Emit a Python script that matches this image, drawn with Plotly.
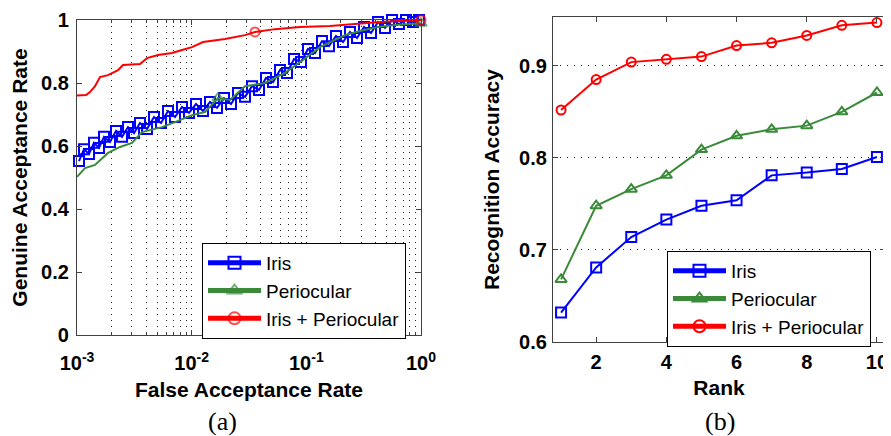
import plotly.graph_objects as go

# ---------------- (a) ROC data: False Acceptance Rate vs Genuine Acceptance Rate
far_iris = [0.001041, 0.001151, 0.001273, 0.001407, 0.001555, 0.001720, 0.001940, 0.002189,
            0.002470, 0.002785, 0.003142, 0.003544, 0.004077, 0.004693, 0.005401, 0.006216,
            0.007155, 0.008234, 0.009479, 0.01091, 0.01256, 0.01445, 0.01663, 0.01914,
            0.02203, 0.02536, 0.02919, 0.03359, 0.03866, 0.04450, 0.05122, 0.05894,
            0.06784, 0.07808, 0.08982, 0.1034, 0.1190, 0.1370, 0.1576, 0.1814,
            0.2088, 0.2403, 0.2766, 0.3184, 0.3664, 0.4217, 0.4854, 0.5587,
            0.6430, 0.7401, 0.8518, 0.9607]
gar_iris = [0.552, 0.590, 0.575, 0.610, 0.594, 0.629, 0.613, 0.648,
            0.629, 0.660, 0.641, 0.673, 0.654, 0.692, 0.673, 0.711,
            0.692, 0.724, 0.705, 0.733, 0.711, 0.740, 0.721, 0.752,
            0.733, 0.768, 0.756, 0.790, 0.778, 0.816, 0.803, 0.841,
            0.832, 0.876, 0.867, 0.908, 0.895, 0.933, 0.917, 0.949,
            0.930, 0.962, 0.943, 0.978, 0.959, 0.994, 0.975, 1.0,
            0.987, 1.0, 0.994, 1.0]

far_peri = [0.001, 0.001174, 0.001436, 0.001864, 0.002371, 0.003017, 0.003688, 0.005510,
            0.007155, 0.01007, 0.01307, 0.01697, 0.02159, 0.02919, 0.04360, 0.06515,
            0.09353, 0.1315, 0.1778, 0.2174, 0.2938, 0.4217, 0.5934, 0.802, 1.0]
gar_peri = [0.502, 0.530, 0.540, 0.578, 0.597, 0.610, 0.644, 0.660,
            0.676, 0.698, 0.708, 0.752, 0.746, 0.790, 0.800, 0.832,
            0.873, 0.914, 0.937, 0.952, 0.965, 0.978, 0.984, 0.987, 0.990]
peri_marked = [0.01697, 1.0]

far_fused = [0.001, 0.001199, 0.001299, 0.001436, 0.001587, 0.001864, 0.002278, 0.002518,
             0.003544, 0.004077, 0.005086, 0.006740, 0.008234, 0.01007, 0.01256, 0.01953,
             0.02919, 0.03567, 0.05330, 0.08810, 0.1608, 0.2403, 0.4389, 0.6560, 1.0]
gar_fused = [0.760, 0.762, 0.771, 0.790, 0.819, 0.825, 0.841, 0.857,
             0.860, 0.879, 0.889, 0.895, 0.905, 0.914, 0.930, 0.940,
             0.952, 0.962, 0.971, 0.978, 0.981, 0.987, 0.994, 0.997, 1.0]
fused_marked = [0.03567, 1.0]

# ---------------- (b) CMC data: Rank vs Recognition Accuracy
ranks = [1, 2, 3, 4, 5, 6, 7, 8, 9, 10]
acc_iris = [0.632, 0.681, 0.714, 0.733, 0.748, 0.754, 0.781, 0.784, 0.788, 0.801]
acc_peri = [0.668, 0.748, 0.766, 0.781, 0.809, 0.824, 0.831, 0.835, 0.850, 0.871]
acc_fused = [0.852, 0.885, 0.904, 0.907, 0.910, 0.922, 0.925, 0.933, 0.944, 0.947]

series_names = ["Iris", "Periocular", "Iris + Periocular"]
x_ticks_a = [0.001, 0.01, 0.1, 1]
x_ticktext_a = ["10<sup>-3</sup>", "10<sup>-2</sup>", "10<sup>-1</sup>", "10<sup>0</sup>"]
y_ticks_a = [0, 0.2, 0.4, 0.6, 0.8, 1]
x_ticks_b = [2, 4, 6, 8, 10]
y_ticks_b = [0.6, 0.7, 0.8, 0.9]

BLUE = "#0000FF"
GREEN = "#3A8A3A"
RED = "#FF0000"
AXC = "#404040"
FONT = "Liberation Sans, Arial, sans-serif"
SERIF = "Liberation Serif, Times New Roman, serif"

# page body has an 8px margin: figure is sized/placed to fit the 891x436 window
OFF = 8
W, H = 891 - OFF, 436 - OFF


def fx(px):
    return (px - OFF) / W


def fy(py):
    return 1 - (py - OFF) / H


fig = go.Figure()

# left panel
fig.add_trace(go.Scatter(
    x=far_iris, y=gar_iris, name=series_names[0], mode="lines+markers",
    line=dict(color=BLUE, width=2),
    marker=dict(symbol="square-open", size=10, color=BLUE, line=dict(width=2)),
    xaxis="x", yaxis="y", legend="legend", cliponaxis=False))
fig.add_trace(go.Scatter(
    x=far_peri, y=gar_peri, name=series_names[1], mode="lines+markers",
    line=dict(color=GREEN, width=2),
    marker=dict(symbol="triangle-up-open", color=GREEN, line=dict(width=2),
                size=[10 if f in peri_marked else 0 for f in far_peri]),
    xaxis="x", yaxis="y", legend="legend", cliponaxis=False))
fig.add_trace(go.Scatter(
    x=far_fused, y=gar_fused, name=series_names[2], mode="lines+markers",
    line=dict(color=RED, width=2),
    marker=dict(symbol="circle-open", color=RED, line=dict(width=2),
                size=[9 if f in fused_marked else 0 for f in far_fused]),
    xaxis="x", yaxis="y", legend="legend", cliponaxis=False))

# right panel
for vals, nm, col, sym, sz in [(acc_iris, series_names[0], BLUE, "square-open", 10),
                                (acc_peri, series_names[1], GREEN, "triangle-up-open", 10),
                                (acc_fused, series_names[2], RED, "circle-open", 9)]:
    fig.add_trace(go.Scatter(
        x=ranks, y=vals, name=nm, mode="lines+markers",
        line=dict(color=col, width=2),
        marker=dict(symbol=sym, size=sz, color=col, line=dict(width=2)),
        xaxis="x2", yaxis="y2", legend="legend2", cliponaxis=False))

tickfont = dict(family=FONT, size=20, color="black", weight="bold")
titlefont = dict(family=FONT, size=21, color="black", weight="bold")
legfont = dict(family=FONT, size=19, color="black")

common = dict(showline=True, linecolor=AXC, linewidth=1.3, mirror="ticks",
              ticks="inside", ticklen=5, tickcolor=AXC, zeroline=False,
              tickfont=tickfont, automargin=False)

fig.update_layout(
    width=W, height=H, margin=dict(l=0, r=0, t=0, b=0, autoexpand=False),
    paper_bgcolor="white", plot_bgcolor="white",
    xaxis=dict(domain=[fx(77), fx(421)], anchor="y", type="log", range=[-3, 0],
               tickvals=x_ticks_a, ticktext=x_ticktext_a,
               showgrid=True, gridcolor="#222", gridwidth=1, griddash="1px,5px",
               minor=dict(dtick="D1", showgrid=True, gridcolor="#222", gridwidth=1,
                          griddash="1px,5px", ticks="inside", ticklen=3, tickcolor=AXC),
               title=dict(text="False Acceptance Rate", font=titlefont, standoff=9),
               ticklabelstandoff=10,
               **common),
    yaxis=dict(domain=[fy(335), fy(20)], anchor="x", range=[0, 1],
               tickvals=y_ticks_a, showgrid=False,
               title=dict(text="Genuine Acceptance Rate", font=titlefont, standoff=7),
               ticklabelstandoff=3,
               **common),
    xaxis2=dict(domain=[fx(553), fx(885)], anchor="y2", range=[0.77, 10.23],
                tickvals=x_ticks_b, showgrid=False,
                title=dict(text="Rank", font=titlefont, standoff=8),
                ticklabelstandoff=2,
                **common),
    yaxis2=dict(domain=[fy(342), fy(17)], anchor="x2", range=[0.6, 0.953],
                tickvals=y_ticks_b, tickformat=".1f",
                showgrid=True, gridcolor="#222", gridwidth=1, griddash="1px,6px",
                title=dict(text="Recognition Accuracy", font=titlefont, standoff=13),
                ticklabelstandoff=1,
                **common),
    legend=dict(x=fx(202), y=fy(243), xanchor="left", yanchor="top",
                bgcolor="white", bordercolor="black", borderwidth=1,
                font=legfont, itemsizing="constant", itemwidth=53, tracegroupgap=0),
    legend2=dict(x=fx(667), y=fy(251), xanchor="left", yanchor="top",
                 bgcolor="white", bordercolor="black", borderwidth=1,
                 font=legfont, itemsizing="constant", itemwidth=53, tracegroupgap=0),
    annotations=[
        dict(text="(a)", x=fx(222), y=fy(421), xref="paper", yref="paper",
             xanchor="center", yanchor="middle",
             showarrow=False, font=dict(family=SERIF, size=26, color="black")),
        dict(text="(b)", x=fx(720), y=fy(421), xref="paper", yref="paper",
             xanchor="center", yanchor="middle",
             showarrow=False, font=dict(family=SERIF, size=26, color="black")),
    ],
)

fig.write_html("out.html")
